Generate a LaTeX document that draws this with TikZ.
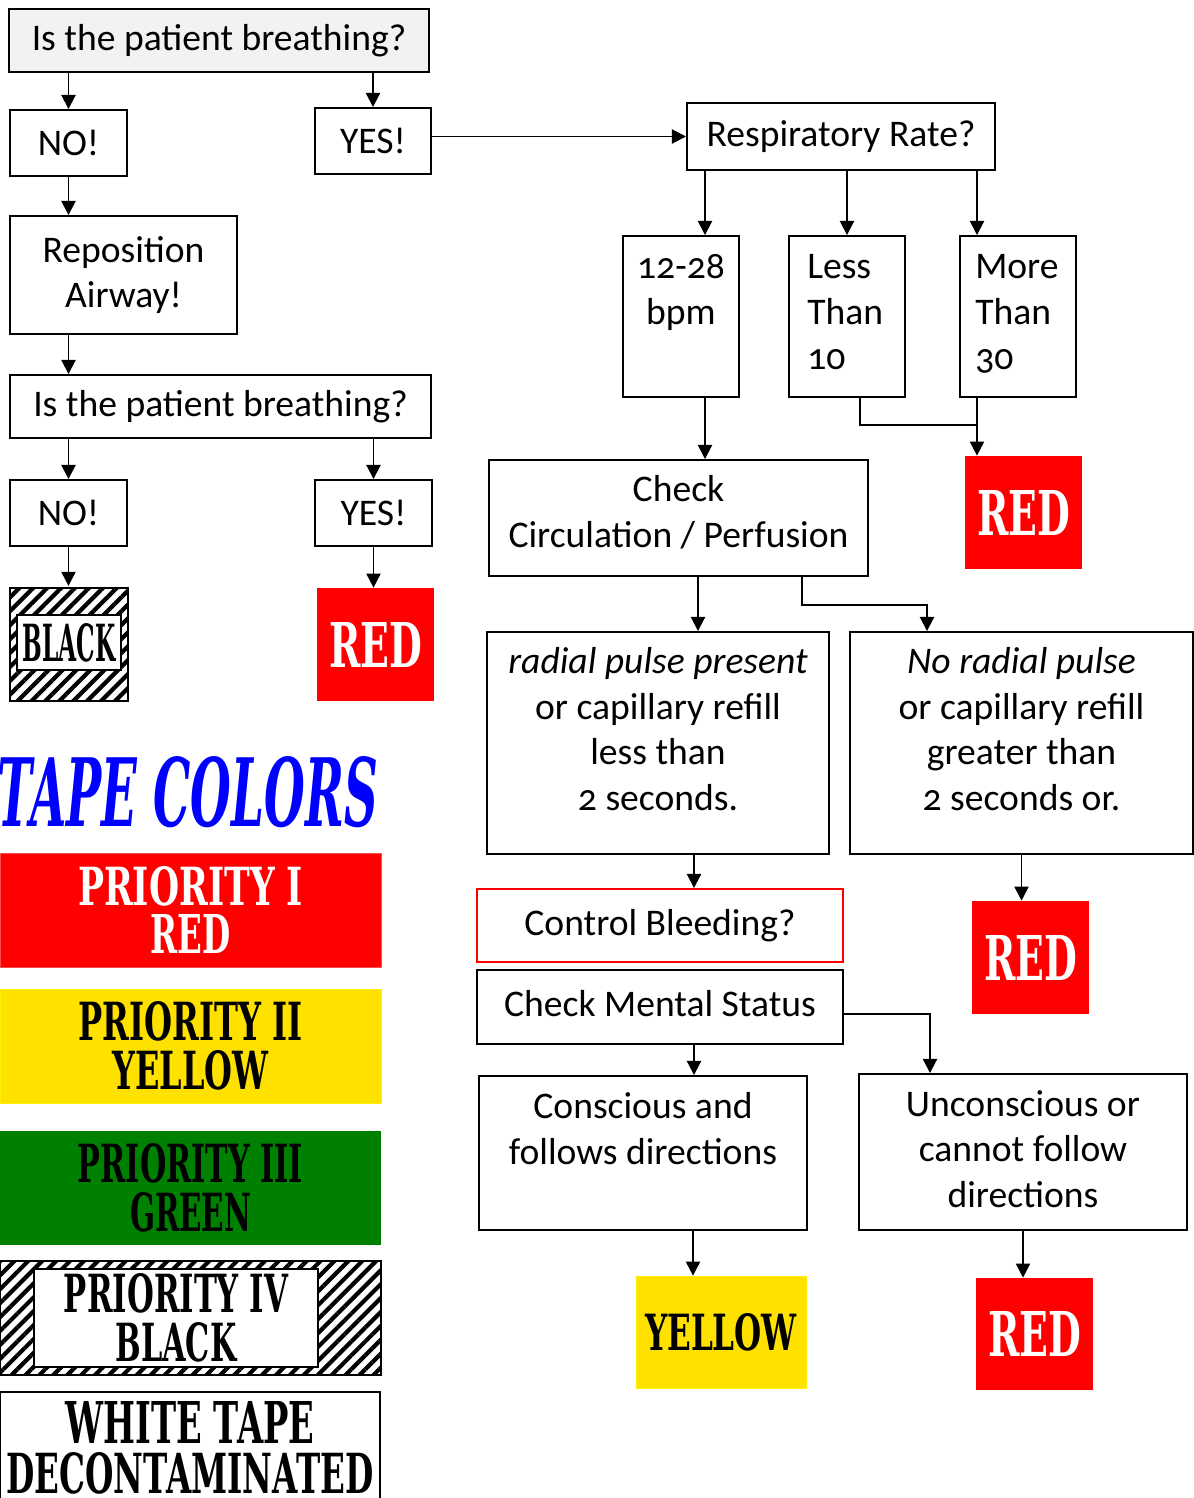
\documentclass[tikz,border=0pt]{standalone}
\usepackage{fontspec}
\usepackage{graphicx}
\setmainfont{Carlito}[Numbers=OldStyle]
\newfontfamily\blockfont{DejaVu Serif}
\usetikzlibrary{arrows.meta,patterns.meta}

\definecolor{tagred}{RGB}{255,0,0}
\definecolor{tagyellow}{RGB}{255,225,0}
\definecolor{taggreen}{RGB}{0,128,0}
\definecolor{tapeblue}{RGB}{0,0,255}
\definecolor{qgray}{RGB}{242,242,242}
\newcommand{\tape}[3]{\resizebox{#1cm}{#2cm}{\blockfont\bfseries #3}}

\begin{document}
\begin{tikzpicture}[
    font=\fontsize{21.4}{26}\selectfont,
    box/.style 2 args={draw, line width=1.1pt, minimum width=#1cm, minimum height=#2cm, align=center, inner sep=0pt},
    tag/.style 2 args={fill=tagred, text=white, minimum width=#1cm, minimum height=#2cm, align=center, inner sep=0pt},
    hatch/.style={pattern={Lines[angle=45,distance=5.6pt,line width=2.4pt]}},
    arr/.style={-{Triangle[width=8pt,length=8pt]}, line width=1.1pt},
    lnk/.style={line width=1.1pt}
]
    \useasboundingbox (0,0) rectangle (23.88,-29.96);

    % left column
    \node[box={8.40}{1.26}, fill=qgray] (q1) at (4.38,-0.81) {Is the patient breathing?};
    \node[box={2.34}{1.32}] (no1) at (1.37,-2.86) {NO!};
    \node[box={2.32}{1.32}] (yes1) at (7.46,-2.82) {YES!};
    \node[box={4.54}{2.36}] (rep) at (2.47,-5.50) {Reposition\\Airway!};
    \node[box={8.42}{1.26}] (q2) at (4.41,-8.13) {Is the patient breathing?};
    \node[box={2.34}{1.32}] (no2) at (1.37,-10.26) {NO!};
    \node[box={2.34}{1.32}] (yes2) at (7.47,-10.26) {YES!};
    \node[box={2.36}{2.26}, hatch] (blk) at (1.38,-12.89) {};
    \node[box={2.08}{1.10}, fill=white] (blkin) at (1.38,-12.85) {\tape{1.86}{0.76}{BLACK}};
    \node[tag={2.34}{2.26}] (red1) at (7.51,-12.89) {\tape{1.86}{0.90}{RED}};

    % tape colors
    \node[anchor=base west, inner sep=0pt, text=tapeblue] (tape) at (-0.05,-16.52)
        {\resizebox{7.6cm}{1.4cm}{\blockfont\bfseries\itshape TAPE COLORS}};
    \node[tag={7.62}{2.28}, draw=tagred!70] (p1) at (3.81,-18.20)
        {\tape{4.50}{0.78}{PRIORITY I}\\[1.8pt]\tape{1.60}{0.78}{RED}};
    \node[tag={7.62}{2.28}, fill=tagyellow, draw=yellow, text=black] (p2) at (3.81,-20.92)
        {\tape{4.48}{0.78}{PRIORITY II}\\[1.8pt]\tape{3.12}{0.78}{YELLOW}};
    \node[tag={7.62}{2.28}, fill=taggreen, text=black] (p3) at (3.81,-23.76)
        {\tape{4.50}{0.78}{PRIORITY III}\\[1.8pt]\tape{2.42}{0.78}{GREEN}};
    \node[box={7.62}{2.28}, hatch] (p4) at (3.81,-26.36) {};
    \node[box={5.68}{1.96}, fill=white] (p4in) at (3.52,-26.36)
        {\tape{4.48}{0.78}{PRIORITY IV}\\[1.8pt]\tape{2.42}{0.78}{BLACK}};
    \node[box={7.60}{2.24}] (p5) at (3.80,-28.96)
        {\tape{4.98}{0.84}{WHITE TAPE}\\[2.4pt]\tape{7.34}{0.82}{DECONTAMINATED}};

    % right column
    \node[box={6.16}{1.34}] (rr) at (16.82,-2.73) {Respiratory Rate?};
    \node[box={2.32}{3.22}, label={[anchor=north, align=center, yshift=-0.26cm]north:{12-28\\bpm}}] (bpm) at (13.62,-6.33) {};
    \node[box={2.32}{3.22}, label={[anchor=north west, align=left, xshift=0.26cm, yshift=-0.26cm]north west:{Less\\Than\\10}}] (lt10) at (16.94,-6.33) {};
    \node[box={2.32}{3.22}, label={[anchor=north west, align=left, xshift=0.2cm, yshift=-0.26cm]north west:{More\\Than\\30}}] (mt30) at (20.36,-6.33) {};
    \node[tag={2.34}{2.26}] (red2) at (20.47,-10.25) {\tape{1.86}{0.90}{RED}};
    \node[box={7.58}{2.32}, label={[anchor=north, align=center, yshift=-0.2cm]north:{Check\\Circulation / Perfusion}}] (circ) at (13.57,-10.36) {};
    \node[box={6.84}{4.44}, label={[anchor=north, align=center, yshift=-0.2cm]north:{{\itshape radial pulse present}\\or capillary refill\\less than\\2 seconds.}}] (rp) at (13.16,-14.86) {};
    \node[box={6.86}{4.44}, label={[anchor=north, align=center, yshift=-0.2cm]north:{{\itshape No radial pulse}\\or capillary refill\\greater than\\2 seconds or.}}] (nrp) at (20.43,-14.86) {};
    \node[tag={2.34}{2.26}] (red3) at (20.61,-19.15) {\tape{1.86}{0.90}{RED}};
    \node[box={7.32}{1.46}, draw=tagred] (cb) at (13.20,-18.51) {Control Bleeding?};
    \node[box={7.32}{1.48}] (cms) at (13.20,-20.14) {\raisebox{0.14cm}{Check Mental Status}};
    \node[box={6.56}{3.08}, label={[anchor=north, align=center, yshift=-0.22cm]north:{Conscious and\\follows directions}}] (con) at (12.86,-23.06) {};
    \node[box={6.56}{3.12}, label={[anchor=north, align=center, yshift=-0.22cm]north:{Unconscious or\\cannot follow\\directions}}] (unc) at (20.46,-23.04) {};
    \node[tag={3.40}{2.24}, fill=tagyellow, draw=yellow, text=black] (yel) at (14.42,-26.64) {\tape{3.04}{0.74}{YELLOW}};
    \node[tag={2.34}{2.24}] (red4) at (20.69,-26.68) {\tape{1.86}{0.90}{RED}};

    % connectors, left
    \draw[arr] (q1.south -| no1) -- (no1.north);
    \draw[arr] (q1.south -| yes1) -- (yes1.north);
    \draw[arr] (no1.south) -- (no1.south |- rep.north);
    \draw[arr] (no1 |- rep.south) -- (no1 |- q2.north);
    \draw[arr] (q2.south -| no2) -- (no2.north);
    \draw[arr] (q2.south -| yes2) -- (yes2.north);
    \draw[arr] (no2.south) -- (no2.south |- blk.north);
    \draw[arr] (yes2.south) -- (yes2.south |- red1.north);
    \draw[arr] (rr.west -| yes1.east) -- (rr.west);

    % connectors, right
    \draw[arr] ([xshift=0.48cm]bpm.north |- rr.south) -- ([xshift=0.48cm]bpm.north);
    \draw[arr] (rr.south -| lt10) -- (lt10.north);
    \draw[arr] ([xshift=-0.82cm]mt30.north |- rr.south) -- ([xshift=-0.82cm]mt30.north);
    \draw[arr] ([xshift=-0.82cm]mt30.south) -- ([xshift=-0.82cm]mt30.south |- red2.north);
    \draw[lnk] ([xshift=0.26cm]lt10.south) |- ([xshift=-0.82cm,yshift=-0.54cm]mt30.south);
    \draw[arr] ([xshift=0.48cm]bpm.south) -- ([xshift=0.48cm]bpm.south |- circ.north);
    \draw[arr] ([xshift=0.39cm]circ.south) -- ([xshift=0.39cm]circ.south |- rp.north);
    \draw[arr] ([xshift=2.47cm]circ.south) -- ++(0,-0.56) -| ([xshift=-1.89cm]nrp.north);
    \draw[arr] ([xshift=0.72cm]rp.south) -- ([xshift=0.72cm]rp.south |- cb.north);
    \draw[arr] (nrp.south) -- (nrp.south |- red3.north);
    \draw[arr] ([xshift=0.68cm]cms.south) -- ([xshift=0.68cm]cms.south |- con.north);
    \draw[arr] ([yshift=-0.14cm]cms.east) -| ([xshift=-1.86cm]unc.north);
    \draw[arr] ([xshift=1.0cm]con.south) -- ([xshift=1.0cm]con.south |- yel.north);
    \draw[arr] (unc.south) -- (unc.south |- red4.north);
\end{tikzpicture}
\end{document}
